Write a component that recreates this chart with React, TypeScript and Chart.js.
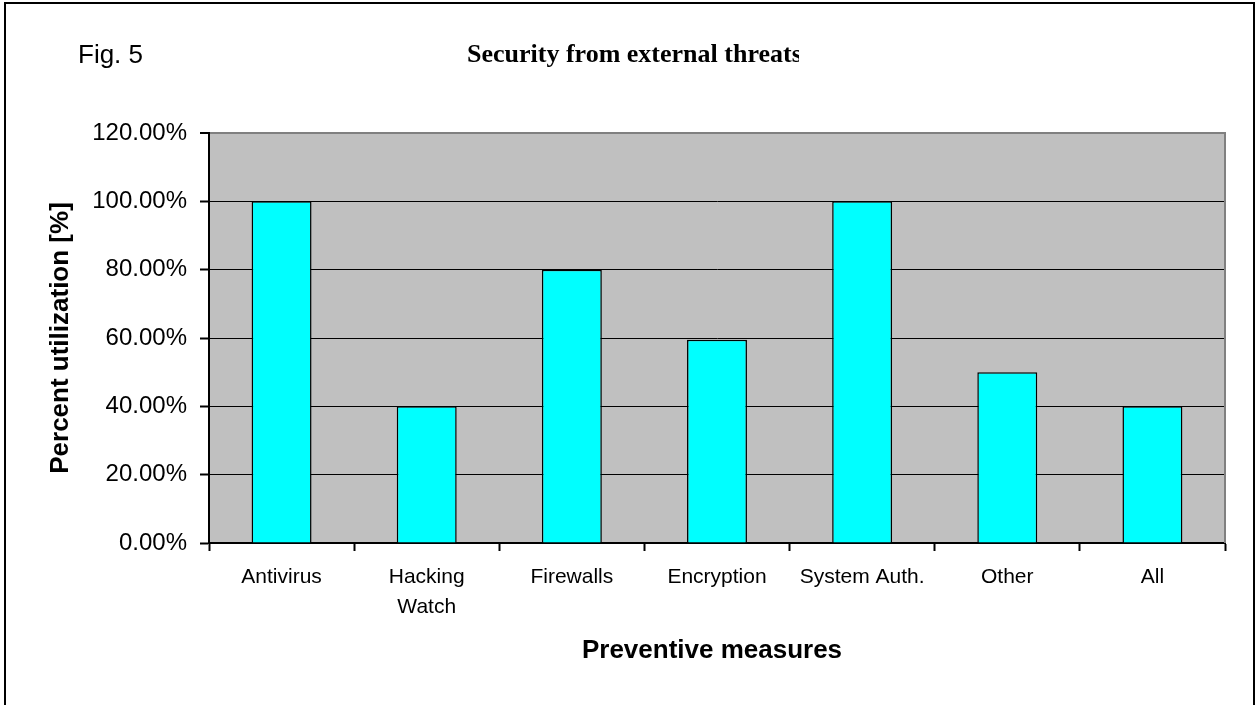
import React, { useEffect, useRef } from "react";
import { Chart, registerables } from "chart.js";

Chart.register(...registerables);

const categories: (string | string[])[] = [
  "Antivirus",
  ["Hacking", "Watch"],
  "Firewalls",
  "Encryption",
  "System Auth.",
  "Other",
  "All",
];
const utilization: number[] = [100, 40, 80, 59.5, 100, 50, 40];
const yTicksMin = 0;
const yTicksMax = 120;
const yTicksStep = 20;

const figLabel = "Fig. 5";
const chartTitle = "Security from external threats";
const yTitle = "Percent utilization [%]";
const xTitle = "Preventive measures";

const W = 1259;
const H = 705;

const decorPlugin = {
  id: "decor",
  beforeDraw(chart: any) {
    const { ctx, chartArea } = chart;
    ctx.save();
    ctx.fillStyle = "#ffffff";
    ctx.fillRect(0, 0, chart.width, chart.height);
    ctx.fillStyle = "#C0C0C0";
    ctx.fillRect(chartArea.left, chartArea.top, chartArea.right - chartArea.left, chartArea.bottom - chartArea.top);
    ctx.restore();
  },
  afterDraw(chart: any) {
    const { ctx, chartArea } = chart;
    ctx.save();
    // right plot border (grey)
    ctx.strokeStyle = "#808080";
    ctx.lineWidth = 2;
    ctx.beginPath();
    ctx.moveTo(chartArea.right, chartArea.top - 1);
    ctx.lineTo(chartArea.right, chartArea.bottom);
    ctx.stroke();
    // outer frame
    ctx.strokeStyle = "#000";
    ctx.lineWidth = 2;
    ctx.strokeRect(5, 3, 1249, 740);
    // Fig label
    ctx.fillStyle = "#000";
    ctx.font = "26px 'Liberation Sans', Arial, sans-serif";
    ctx.textAlign = "left";
    ctx.textBaseline = "alphabetic";
    ctx.fillText(figLabel, 78, 63);
    // Title (clipped)
    ctx.save();
    ctx.beginPath();
    ctx.rect(0, 0, 799, 120);
    ctx.clip();
    ctx.font = "bold 26px 'Liberation Serif', 'Times New Roman', serif";
    ctx.fillText(chartTitle, 467, 62);
    ctx.restore();
    // X title
    ctx.font = "bold 26px 'Liberation Sans', Arial, sans-serif";
    ctx.textAlign = "center";
    ctx.fillText(xTitle, 712, 658);
    // Y title
    ctx.translate(68, 338);
    ctx.rotate(-Math.PI / 2);
    ctx.fillText(yTitle, 0, 0);
    ctx.restore();
  },
};

export default function App() {
  const ref = useRef<HTMLCanvasElement | null>(null);
  useEffect(() => {
    document.body.style.margin = "0";
    if (!ref.current) return;
    const chart = new Chart(ref.current, {
      type: "bar",
      data: {
        labels: categories as any,
        datasets: [
          {
            data: utilization,
            backgroundColor: "#00FFFF",
            borderColor: "#000000",
            borderWidth: 1.5,
            borderSkipped: "bottom",
            barPercentage: 0.413,
            categoryPercentage: 1,
          },
        ],
      },
      options: {
        responsive: false,
        animation: false,
        devicePixelRatio: 1,
        layout: { padding: { top: 133, right: 34, left: 0, bottom: 0 } },
        plugins: {
          legend: { display: false },
          title: { display: false },
          tooltip: { enabled: false },
        },
        scales: {
          x: {
            offset: true,
            grid: {
              offset: true,
              drawOnChartArea: false,
              drawTicks: true,
              tickLength: 8,
              tickWidth: 2,
              tickColor: "#000",
            },
            border: { color: "#000", width: 2 },
            ticks: {
              color: "#000",
              padding: 12,
              maxRotation: 0,
              autoSkip: false,
              font: { family: "'Liberation Sans', Arial, sans-serif", size: 21, lineHeight: 1.4 },
            },
            afterFit(scale: any) {
              scale.height = 162;
            },
          },
          y: {
            min: yTicksMin,
            max: yTicksMax,
            grid: {
              color: (c: any) => (c.tick && c.tick.value === yTicksMax ? "#808080" : "#000"),
              lineWidth: (c: any) => (c.tick && c.tick.value === yTicksMax ? 2 : 1),
              tickLength: 9,
              tickWidth: 2,
              tickColor: "#000",
            },
            border: { color: "#000", width: 2 },
            ticks: {
              stepSize: yTicksStep,
              color: "#000",
              padding: 13,
              font: { family: "'Liberation Sans', Arial, sans-serif", size: 24 },
              callback: (v: any) => Number(v).toFixed(2) + "%",
            },
            afterFit(scale: any) {
              scale.width = 209;
            },
          },
        },
      },
      plugins: [decorPlugin],
    });
    return () => chart.destroy();
  }, []);
  return (
    <div style={{ width: W, height: H }}>
      <canvas ref={ref} width={W} height={H} style={{ display: "block" }} />
    </div>
  );
}
